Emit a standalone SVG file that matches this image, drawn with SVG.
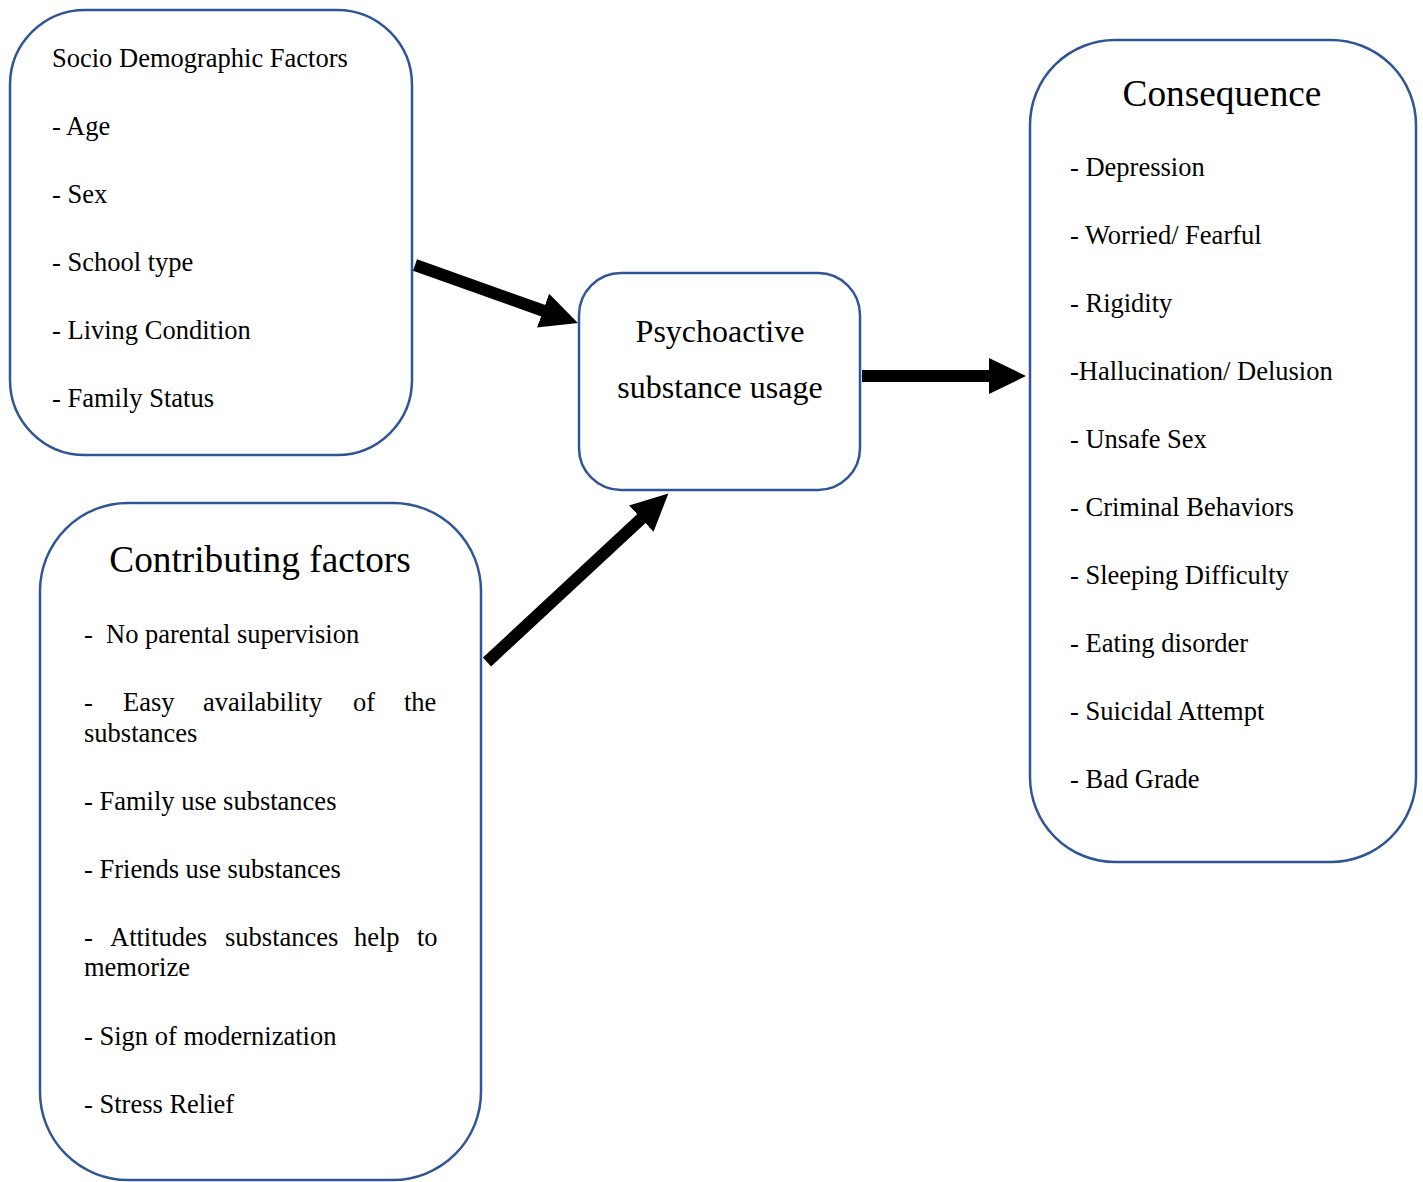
<svg xmlns="http://www.w3.org/2000/svg" width="1423" height="1182" viewBox="0 0 1423 1182">
<style>
.box{fill:#fff;stroke:#2F5597;stroke-width:2.5}
text{font-family:"Liberation Serif","Times New Roman",serif;fill:#000}
.t{font-size:26.5px}
.h{font-size:37.3px}
.p{font-size:32px}
.arr{stroke:#000;stroke-width:12;fill:none}
</style>
<defs>
<marker id="ah" markerUnits="userSpaceOnUse" markerWidth="38" markerHeight="36" viewBox="0 0 38 36" refX="1" refY="18" orient="auto">
<path d="M0,0 L37,18 L0,36 z" fill="#000"/>
</marker>
</defs>
<rect width="1423" height="1182" fill="#fff"/>
<g id="socio">
<rect class="box" x="10" y="10" width="402" height="445" rx="75" ry="75"/>
<text class="t" x="52" y="67">Socio Demographic Factors</text>
<text class="t" x="52" y="135">- Age</text>
<text class="t" x="52" y="203">- Sex</text>
<text class="t" x="52" y="271">- School type</text>
<text class="t" x="52" y="339">- Living Condition</text>
<text class="t" x="52" y="407">- Family Status</text>
</g>
<g id="contributing">
<rect class="box" x="40" y="503" width="441" height="677" rx="88" ry="88"/>
<text class="h" x="260" y="572" text-anchor="middle">Contributing factors</text>
<text class="t" y="643"><tspan x="84">-</tspan><tspan x="106">No parental supervision</tspan></text>
<text class="t" y="711"><tspan x="84">-</tspan><tspan x="123">Easy</tspan><tspan x="203">availability</tspan><tspan x="353">of</tspan><tspan x="404">the</tspan></text>
<text class="t" x="84" y="742">substances</text>
<text class="t" x="84" y="810">- Family use substances</text>
<text class="t" x="84" y="878">- Friends use substances</text>
<text class="t" y="946"><tspan x="84">-</tspan><tspan x="110">Attitudes</tspan><tspan x="225">substances</tspan><tspan x="354">help</tspan><tspan x="417">to</tspan></text>
<text class="t" x="84" y="976">memorize</text>
<text class="t" x="84" y="1045">- Sign of modernization</text>
<text class="t" x="84" y="1113">- Stress Relief</text>
</g>
<g id="psychoactive">
<rect class="box" x="579" y="273" width="281" height="217" rx="42" ry="42"/>
<text class="p" x="720" y="342" text-anchor="middle">Psychoactive</text>
<text class="p" x="720" y="398" text-anchor="middle">substance usage</text>
</g>
<g id="consequence">
<rect class="box" x="1030" y="40" width="386" height="822" rx="85" ry="85"/>
<text class="h" x="1222" y="106" text-anchor="middle">Consequence</text>
<text class="t" x="1070" y="176">- Depression</text>
<text class="t" x="1070" y="244">- Worried/ Fearful</text>
<text class="t" x="1070" y="312">- Rigidity</text>
<text class="t" x="1070" y="380">-Hallucination/ Delusion</text>
<text class="t" x="1070" y="448">- Unsafe Sex</text>
<text class="t" x="1070" y="516">- Criminal Behaviors</text>
<text class="t" x="1070" y="584">- Sleeping Difficulty</text>
<text class="t" x="1070" y="652">- Eating disorder</text>
<text class="t" x="1070" y="720">- Suicidal Attempt</text>
<text class="t" x="1070" y="788">- Bad Grade</text>
</g>
<g id="connectors">
<line class="arr" x1="415" y1="265" x2="544" y2="311" marker-end="url(#ah)"/>
<line class="arr" x1="487" y1="662" x2="642" y2="518" marker-end="url(#ah)"/>
<line class="arr" x1="862" y1="376" x2="990" y2="376" marker-end="url(#ah)"/>
</g>
</svg>
